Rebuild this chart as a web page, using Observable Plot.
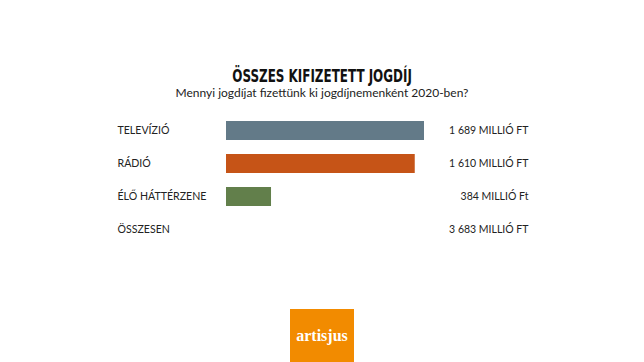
<!DOCTYPE html>
<html><head><meta charset="utf-8">
<script src="https://cdn.jsdelivr.net/npm/d3@7"></script>
<script src="https://cdn.jsdelivr.net/npm/@observablehq/plot@0.6"></script>
<style>
body{margin:0;background:#fff;width:644px;height:362px;overflow:hidden;position:relative;font-family:Lato,"Open Sans",sans-serif;}
#title{position:absolute;top:66px;left:0;width:644px;height:14px;text-align:center;}
#title span{display:inline-block;font-family:"DejaVu Sans Condensed","DejaVu Sans",sans-serif;font-weight:bold;font-size:17px;line-height:14px;color:#111;transform:scaleX(0.78);transform-origin:center;}
#sub{position:absolute;top:86px;left:0;width:644px;text-align:center;font-size:12px;line-height:14px;color:#222;}
#chart{position:absolute;top:0;left:0;}
#logo{position:absolute;left:290px;top:309px;width:64px;height:53px;background:#f28b00;color:#fff;font-family:"Liberation Serif",serif;font-weight:bold;font-size:16px;line-height:53px;text-align:center;}
</style></head><body>
<div id="title"><span>ÖSSZES KIFIZETETT JOGDÍJ</span></div>
<div id="sub">Mennyi jogdíjat fizettünk ki jogdíjnemenként 2020-ben?</div>
<div id="chart"></div>
<div id="logo">artisjus</div>
<script>
const categories = ["TELEVÍZIÓ", "RÁDIÓ", "ÉLŐ HÁTTÉRZENE", "ÖSSZESEN"];
const values = [1689, 1610, 384, 3683];
const valueLabels = ["1 689 MILLIÓ FT", "1 610 MILLIÓ FT", "384 MILLIÓ Ft", "3 683 MILLIÓ FT"];
const colors = ["#637a88", "#c65417", "#627f4b", null];

const rows = categories.map((c, i) => ({cat: c, value: values[i], label: valueLabels[i], color: colors[i]}));
const bars = rows.filter(d => d.color);

const plot = Plot.plot({
  width: 644,
  height: 300,
  marginLeft: 117,
  marginRight: 116,
  marginTop: 113,
  marginBottom: 53,
  x: {domain: [0, 1689], range: [226, 424], axis: null},
  y: {domain: categories, range: [113, 247], paddingInner: 0.43, paddingOuter: 0.215, axis: null},
  style: {fontFamily: "Lato, 'Open Sans', sans-serif", fontSize: "10.5px", color: "#222"},
  marks: [
    Plot.barX(bars, {x: "value", y: "cat", fill: "color"}),
    Plot.text(rows, {y: "cat", text: "cat", frameAnchor: "left", textAnchor: "start", fill: "#222", fontSize: 10.6}),
    Plot.text(rows, {y: "cat", text: "label", frameAnchor: "right", textAnchor: "end", fill: "#222", fontSize: 10.5})
  ]
});
document.getElementById("chart").appendChild(plot);
</script>
</body></html>
